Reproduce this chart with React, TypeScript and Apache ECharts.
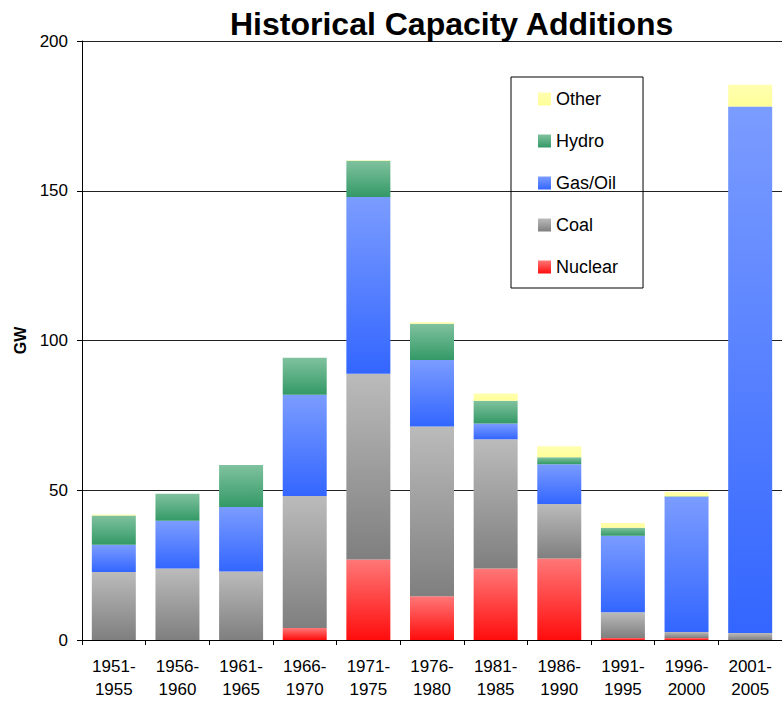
import React, { useEffect, useRef } from "react";
import * as echarts from "echarts";

const categories = [
  "1951-\n1955", "1956-\n1960", "1961-\n1965", "1966-\n1970", "1971-\n1975",
  "1976-\n1980", "1981-\n1985", "1986-\n1990", "1991-\n1995", "1996-\n2000", "2001-\n2005",
];
const nuclear = [0, 0, 0, 4.0, 26.9, 14.6, 23.9, 27.2, 0.7, 0.7, 0];
const coal = [22.7, 23.9, 22.9, 44.1, 62.0, 56.7, 43.1, 18.2, 8.6, 2.0, 2.3];
const gasOil = [9.1, 15.9, 21.5, 33.8, 59.0, 22.2, 5.3, 13.3, 25.5, 45.1, 175.8];
const hydro = [9.8, 9.0, 14.0, 12.3, 12.1, 12.1, 7.6, 2.3, 2.7, 0.2, 0];
const other = [0.3, 0, 0, 0, 0.2, 0.5, 2.4, 3.7, 1.6, 1.4, 7.3];
const yTicks = [0, 50, 100, 150, 200];

const FONT = 'Arial, "Liberation Sans", sans-serif';

const grad = (top: string, bottom: string) =>
  new echarts.graphic.LinearGradient(0, 0, 0, 1, [
    { offset: 0, color: top },
    { offset: 1, color: bottom },
  ]);

export default function App() {
  const ref = useRef<HTMLDivElement>(null);
  useEffect(() => {
    if (!ref.current) return;
    const chart = echarts.init(ref.current, undefined, { renderer: "svg" });
    const mk = (name: string, data: number[], top: string, bottom: string) => ({
      name,
      type: "bar",
      stack: "total",
      data,
      barWidth: 44,
      itemStyle: { color: grad(top, bottom) },
    });
    chart.setOption({
      animation: false,
      backgroundColor: "#ffffff",
      title: {
        text: "Historical Capacity Additions",
        left: 225,
        top: 3,
        textStyle: { fontFamily: FONT, fontSize: 32, fontWeight: "bold", color: "#000" },
      },
      legend: {
        data: ["Other", "Hydro", "Gas/Oil", "Coal", "Nuclear"],
        orient: "vertical",
        left: 511,
        top: 77,
        padding: [13, 25, 12, 27],
        itemGap: 24,
        itemWidth: 13,
        itemHeight: 13,
        icon: "rect",
        borderColor: "#000",
        borderWidth: 1,
        textStyle: { fontFamily: FONT, fontSize: 18, color: "#000", lineHeight: 18 },
      },
      grid: { left: 82, right: -7, top: 41, bottom: 57, containLabel: false },
      xAxis: {
        type: "category",
        data: categories,
        axisLine: { lineStyle: { color: "#000", width: 1 } },
        axisTick: { show: true, length: 5, lineStyle: { color: "#000" } },
        axisLabel: {
          interval: 0,
          margin: 15,
          fontFamily: FONT,
          fontSize: 17,
          lineHeight: 23,
          color: "#000",
        },
      },
      yAxis: {
        type: "value",
        min: yTicks[0],
        max: yTicks[yTicks.length - 1],
        interval: 50,
        name: "GW",
        nameLocation: "middle",
        nameGap: 52,
        nameTextStyle: { fontFamily: FONT, fontSize: 16, fontWeight: "bold", color: "#000" },
        axisLine: { show: true, lineStyle: { color: "#000", width: 1 } },
        axisTick: { show: true, length: 5, lineStyle: { color: "#000" } },
        axisLabel: { margin: 14, fontFamily: FONT, fontSize: 17, color: "#000" },
        splitLine: { show: true, lineStyle: { color: "#222", width: 1 } },
      },
      series: [
        mk("Nuclear", nuclear, "#FF7777", "#FF0D0D"),
        mk("Coal", coal, "#BBBBBB", "#7F7F7F"),
        mk("Gas/Oil", gasOil, "#7B9CFF", "#3366FF"),
        mk("Hydro", hydro, "#80C29E", "#339966"),
        mk("Other", other, "#FFFFB0", "#FFFF99"),
      ],
    });
    return () => chart.dispose();
  }, []);
  return (
    <div
      ref={ref}
      style={{ position: "absolute", left: 0, top: 0, width: 782, height: 701 }}
    />
  );
}
